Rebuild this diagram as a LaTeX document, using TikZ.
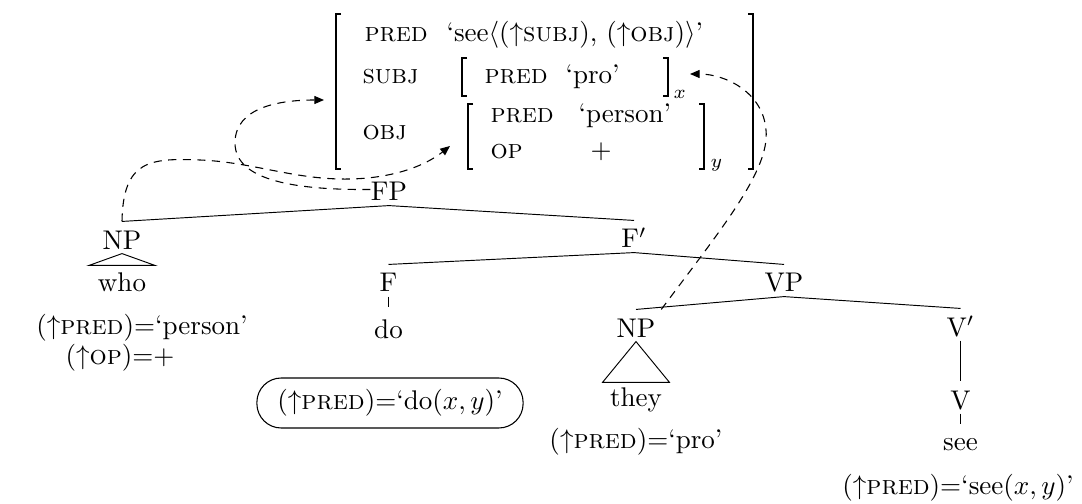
\documentclass[tikz,border=0pt]{standalone}
\usetikzlibrary{arrows.meta,calc}
\begin{document}
\begin{tikzpicture}[x=0.37pt,y=-0.37pt,
  cat/.style={anchor=base,inner sep=0pt,text height=10pt,text depth=1.5pt},
  word/.style={anchor=base,inner sep=0pt},
  ann/.style={anchor=base,inner sep=0pt},
  txt/.style={anchor=base west,inner sep=0pt},
  branch/.style={line width=0.35pt},
  brk/.style={line width=0.8pt},
  link/.style={dash pattern=on 3pt off 2.4pt,line width=0.4pt,-{Triangle[length=3.6pt,width=3pt]}},
  dobox/.style={draw,line width=0.4pt,rounded corners=9pt,minimum width=98.5pt,minimum height=18.5pt,inner sep=0pt}]
\useasboundingbox (0,0) rectangle (1082,504);

% ---------- f-structure ----------
\draw[brk] (341,14) -- (336,14) -- (336,169) -- (341,169);
\draw[brk] (748,14) -- (753,14) -- (753,169) -- (748,169);
\node[txt] (p1) at (364,42) {\textsc{pred}};
\node[txt] (v1) at (446,42) {`see$\langle(\uparrow$\textsc{subj}$)$, $(\uparrow$\textsc{obj}$)\rangle$'};
\node[txt] (a2) at (362,84) {\textsc{subj}};
\draw[brk] (467,58) -- (462,58) -- (462,96) -- (467,96);
\node[txt] (p2) at (484,84) {\textsc{pred}};
\node[txt] (v2) at (565,84) {`pro'};
\draw[brk] (663,58) -- (668,58) -- (668,96) -- (663,96);
\node[txt] (sx) at (673,99) {$\scriptstyle x$};
\node[txt] (a3) at (362,140) {\textsc{obj}};
\draw[brk] (473,104) -- (468,104) -- (468,169) -- (473,169);
\node[txt] (p3) at (490,123) {\textsc{pred}};
\node[txt] (v3) at (578,123) {`person'};
\node[txt] (p4) at (490,158) {\textsc{op}};
\node[txt] (v4) at (590,158) {$+$};
\draw[brk] (699,104) -- (704,104) -- (704,169) -- (699,169);
\node[txt] (sy) at (710,168) {$\scriptstyle y$};
\coordinate (avmL) at (324,100);
\coordinate (objL) at (450,146);
\coordinate (subjR) at (690,74);

% ---------- c-structure ----------
\node[cat] (FP) at (389,201) {FP};
\node[cat] (NPw) at (122,249) {NP};
\node[cat] (Fb) at (634,248) {F$'$};
\node[cat] (F) at (388.5,292) {F};
\node[cat] (VP) at (784,292) {VP};
\node[cat] (NPt) at (636,337) {NP};
\node[cat] (Vb) at (960.5,336) {V$'$};
\node[cat] (V) at (960.5,409) {V};
\node[word,inner xsep=3.1pt,inner ysep=2.7pt] (who) at (122,292) {who};
\node[word,inner ysep=4.2pt] (do) at (388.5,338) {do};
\node[word,inner xsep=2.6pt,inner ysep=1.6pt] (they) at (636,406) {they};
\node[word,inner ysep=5pt] (see) at (960.5,450) {see};

\draw[branch] (NPw.north) -- (FP.south) -- (Fb.north);
\draw[branch] (F.north) -- (Fb.south) -- (VP.north);
\draw[branch] (NPt.north) -- (VP.south) -- (Vb.north);
\draw[branch] (Vb.south) -- (V.north);
\draw[branch] (F.south) -- (do.north);
\draw[branch] (V.south) -- (see.north);
\draw[branch] (NPw.south) -- (who.north west) -- (who.north east) -- cycle;
\draw[branch] (NPt.south) -- (they.north west) -- (they.north east) -- cycle;

% ---------- annotations ----------
\node[ann] (perlab) at (142,334) {$(\uparrow$\textsc{pred}$){=}$`person'};
\node[ann] (oplab) at (120,364) {$(\uparrow$\textsc{op}$){=}{+}$};
\node[dobox] (dolab) at (390,403) {$(\uparrow$\textsc{pred}$){=}$`do$(x,y)$'};
\node[ann] (prolab) at (636,448) {$(\uparrow$\textsc{pred}$){=}$`pro'};
\node[ann] (seelab) at (958,494) {$(\uparrow$\textsc{pred}$){=}$`see$(x,y)$'};

% ---------- correspondence arrows ----------
\draw[link] (FP.west) .. controls (300,190) and (235,182) .. (235,143)
  .. controls (235,107) and (280,100) .. (avmL);
\draw[link] (NPw.north) .. controls (123,160) and (150,158) .. (200,160)
  .. controls (250,162) and (290,178) .. (340,179)
  .. controls (390,180) and (425,166) .. (objL);
\draw[link] ([xshift=2pt]NPt.north east) .. controls (722,228) and (770,170) .. (766,130)
  .. controls (763,92) and (725,74) .. (subjR);
\end{tikzpicture}
\end{document}
